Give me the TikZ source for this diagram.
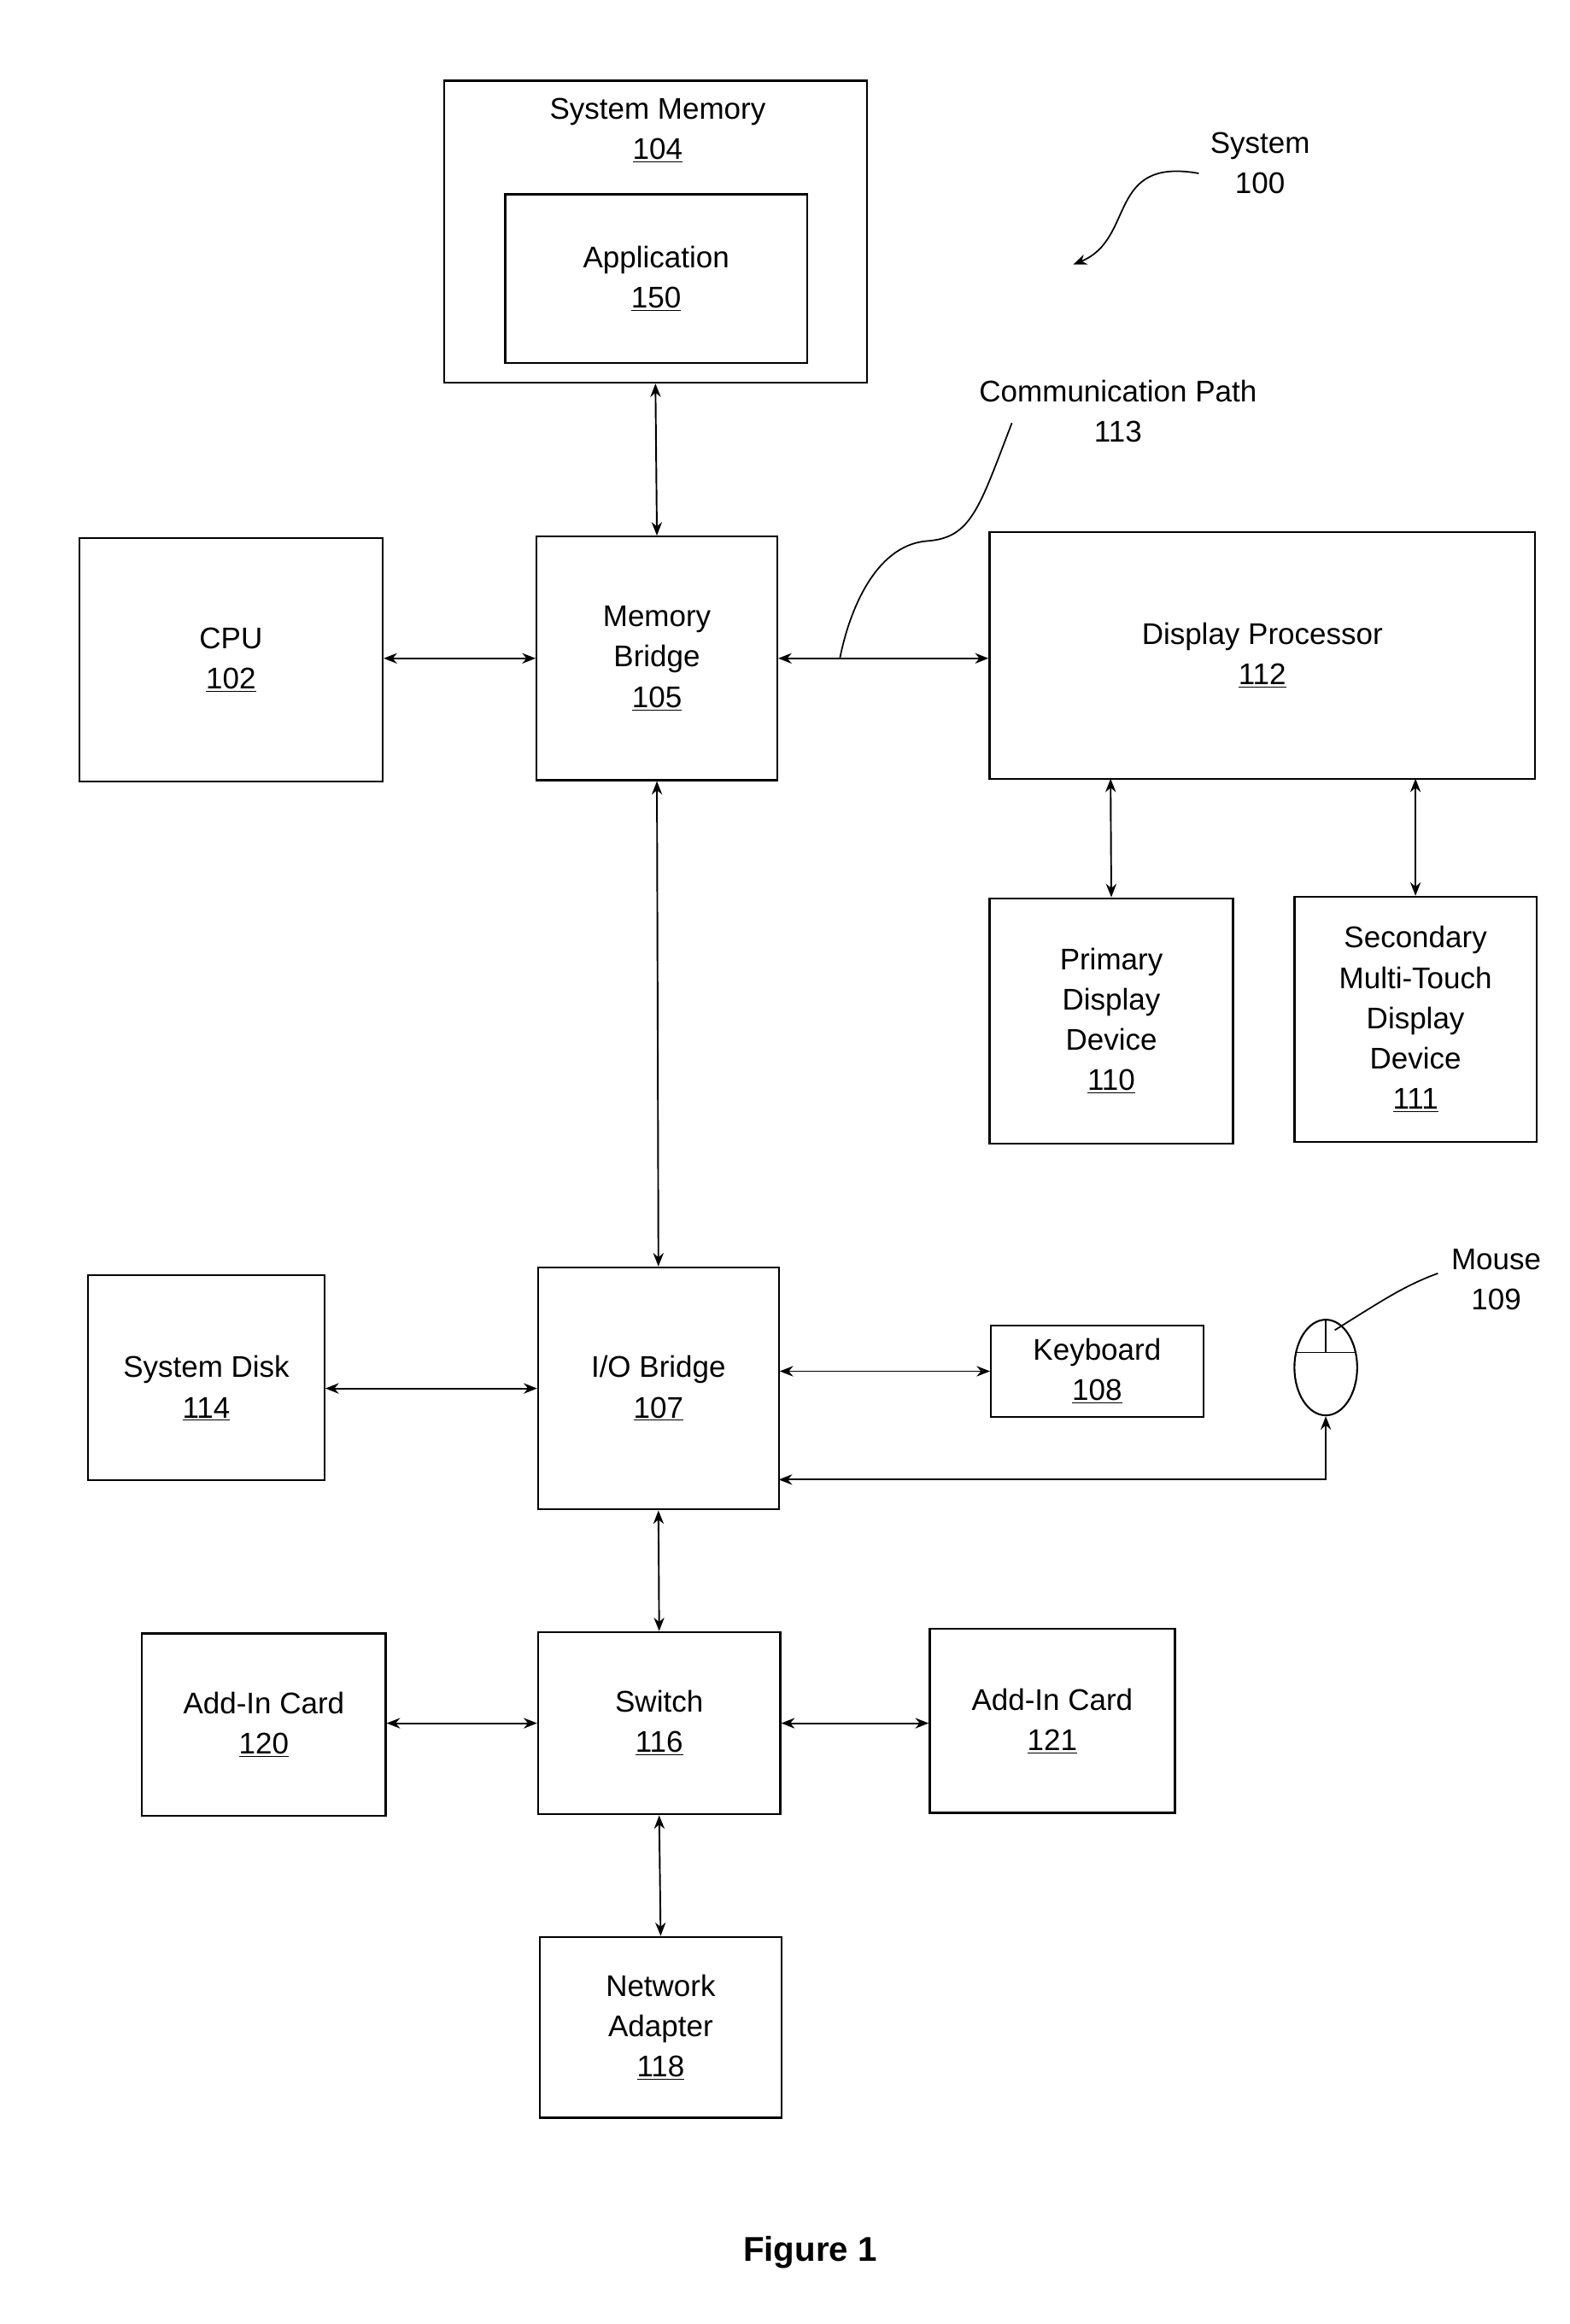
\documentclass[tikz,border=0pt]{standalone}
\usepackage{fontspec}
\setmainfont{Liberation Sans}
\usetikzlibrary{arrows.meta,shapes.geometric}
\begin{document}
\begin{tikzpicture}[x=1pt,y=-1pt,
  box/.style={draw,line width=1.3pt,inner sep=0pt,align=center,font=\fontsize{20}{27}\selectfont},
  lbl/.style={align=center,font=\fontsize{20}{27}\selectfont},
  arr/.style={{Stealth[length=9pt,width=7pt]}-{Stealth[length=9pt,width=7pt]},line width=1.1pt},
  lead/.style={line width=1pt}]
\useasboundingbox (0,0) rectangle (1050,1555);
\newcommand{\bx}[6]{\node[box,minimum width=#4-#2,minimum height=#5-#3] (#1) at ({(#2+#4)/2},{(#3+#5)/2}) {#6};}
\bx{sm}{297}{54}{580}{256}{}
\node[lbl,anchor=north] (smt) at (440,62) {System Memory\\\underline{104}};
\bx{app}{338}{130}{540}{243}{Application\\\underline{150}}
\bx{cpu}{53}{360}{256}{523}{CPU\\\underline{102}}
\bx{mb}{359}{359}{520}{522}{Memory\\Bridge\\\underline{105}}
\bx{dp}{662}{356}{1027}{521}{Display Processor\\\underline{112}}
\bx{pd}{662}{601}{825}{765}{Primary\\Display\\Device\\\underline{110}}
\bx{sd}{866}{600}{1028}{764}{Secondary\\Multi-Touch\\Display\\Device\\\underline{111}}
\bx{io}{360}{848}{521}{1010}{I/O Bridge\\\underline{107}}
\bx{kb}{663}{887}{805}{948}{Keyboard\\\underline{108}}
\bx{sw}{360}{1092}{522}{1214}{Switch\\\underline{116}}
\bx{a120}{95}{1093}{258}{1215}{Add-In Card\\\underline{120}}
\bx{a121}{622}{1090}{786}{1213}{Add-In Card\\\underline{121}}
\bx{na}{361}{1296}{523}{1417}{Network\\Adapter\\\underline{118}}
% disk
\node[draw,line width=1.3pt,cylinder,shape border rotate=90,aspect=0.25,minimum width=158,minimum height=137,inner sep=0pt] (disk) at (138,922) {};
\node[lbl] (diskt) at (138,929) {System Disk\\\underline{114}};
% mouse
\node[draw,ellipse,line width=1.2pt,minimum width=42,minimum height=64,inner sep=0pt] (mouse) at (887,915) {};
\coordinate (mtop) at (887,883);
\coordinate (mmid) at (887,905);
\draw[line width=1pt] (mtop) -- (mmid);
\draw[line width=1pt] (867,905) -- (907,905);
\node[lbl] (mousel) at (1001,856) {Mouse\\109};
\draw[lead] (893,890) .. controls (925,870) and (940,860) .. (962,852);
% labels
\node[lbl] (sysl) at (843,109) {System\\100};
\draw[lead,-{Stealth[length=9pt,width=7pt]}] (802,116) .. controls (740,105) and (760,160) .. (718,177);
\node[lbl] (cpl) at (748,275) {Communication Path\\113};
\coordinate (cpe) at (562,440);
\draw[lead] (677,283) .. controls (655,340) and (650,360) .. (620,362) .. controls (585,365) and (568,410) .. (cpe);
\node[font=\fontsize{23}{27}\selectfont\bfseries] (fig) at (542,1507) {Figure 1};
% connectors
\draw[arr] (sm.south) -- (mb.north);
\draw[arr] (cpu.east |- mb.west) -- (mb.west);
\draw[arr] (mb.east) -- (dp.west |- mb.east);
\draw[arr] (743,521) -- (pd.north);
\draw[arr] (947,521) -- (sd.north);
\draw[arr] (mb.south) -- (io.north);
\draw[arr] (disk.east |- io.west) -- (io.west);
\draw[arr] (io.east |- kb.west) -- (kb.west);
\draw[arr] (521,990) -| (mouse.south);
\draw[arr] (io.south) -- (sw.north);
\draw[arr] (a120.east |- sw.west) -- (sw.west);
\draw[arr] (sw.east) -- (a121.west |- sw.east);
\draw[arr] (sw.south) -- (na.north);
\end{tikzpicture}
\end{document}
